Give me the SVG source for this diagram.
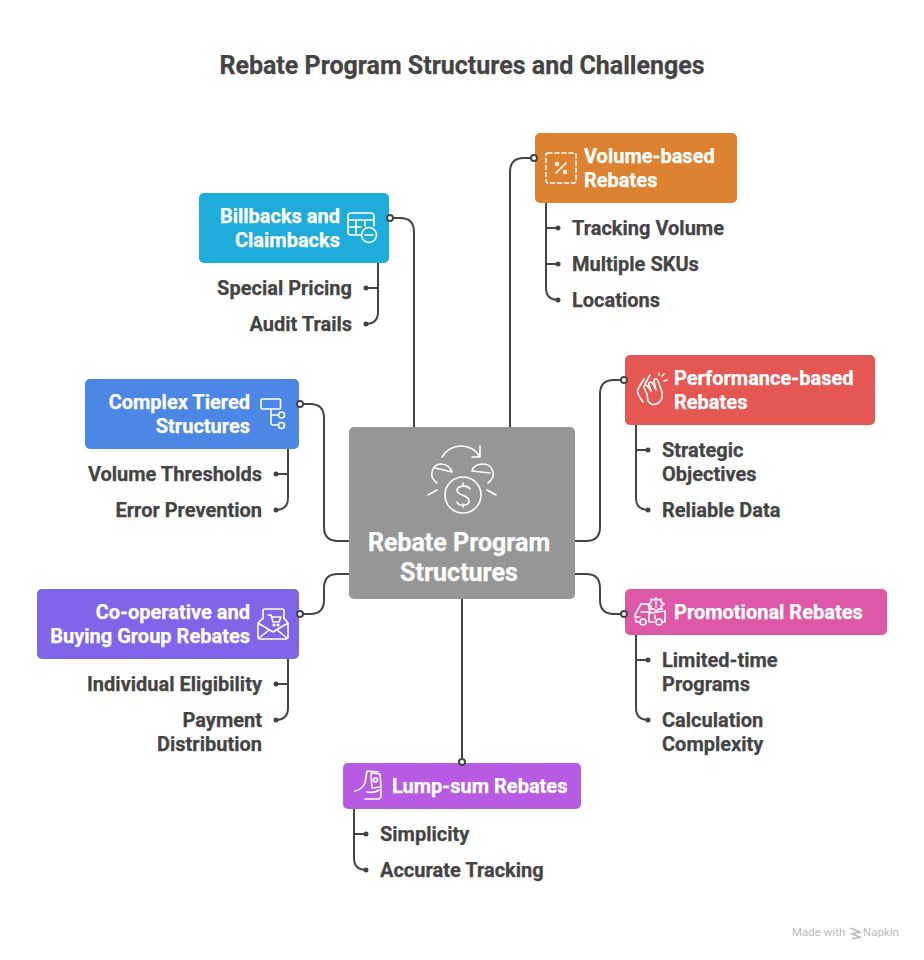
<svg xmlns="http://www.w3.org/2000/svg" width="924" height="960" viewBox="0 0 924 960">
<style>
text{font-family:Roboto,"Liberation Sans",sans-serif;font-weight:700}
.title{font-size:25px;fill:#444;text-anchor:middle;stroke:#444;stroke-width:.25}
.nt{font-size:20px;fill:#fff;stroke:#fff;stroke-width:.25}
.ct{font-size:25px;fill:#fff;text-anchor:middle;stroke:#fff;stroke-width:.25}
.lb{font-size:20px;fill:#444;stroke:#444;stroke-width:.25}
.e{text-anchor:end}
.ln{fill:none;stroke:#444;stroke-width:2}
.pt{fill:#444}
.op{fill:#fff;stroke:#444;stroke-width:2}
.ic{fill:none;stroke:#fff;stroke-width:1.6;stroke-linecap:round;stroke-linejoin:round}
.wm{font-size:11.5px;fill:#bbb;font-weight:400}
</style>
<rect width="924" height="960" fill="#fff"/>
<text class="title" x="462" y="74">Rebate Program Structures and Challenges</text>
<g id="center">
<rect x="349" y="427" width="226" height="172" rx="5" fill="#969696"/>
<g class="ic">
<path d="M442 457C447 449 454 446 461 446C469 446 476 450 480 457M480 446V457H472"/>
<path d="M437 483C433 480 431 476 432 472C433 467 436 464 441 464C447 464 451 468 452 472L435 468"/>
<path d="M488 483C492 480 494 476 493 472C492 467 488 464 483 464C477 464 473 467 472 471L490 473"/>
<circle cx="463" cy="495" r="18"/>
<path d="M470 489C468 485 458 485 457 490C456 496 469 494 469 501C469 506 459 507 457 502M463 483V486M463 504V507"/>
<path d="M428 495L437 490M496 495L487 490"/>
</g>
<text class="ct" x="459" y="551">Rebate Program</text>
<text class="ct" x="459" y="581">Structures</text>
</g>
<g id="billbacks">
<rect x="199" y="193" width="190" height="70" rx="5" fill="#1eacdb"/>
<text class="nt e" x="340" y="223">Billbacks and</text>
<text class="nt e" x="340" y="247">Claimbacks</text>
<g class="ic">
<path d="M361 235H351Q348 235 348 232V216Q348 213 351 213H371Q374 213 374 216V226M348 220H374M348 227H361M356 220V235M365 220V226"/>
<circle cx="369" cy="235" r="7.5"/><path d="M365 235H373"/>
</g>
<text class="lb e" x="352" y="295">Special Pricing</text>
<text class="lb e" x="352" y="331">Audit Trails</text>
</g>
<g id="volume">
<rect x="535" y="133" width="202" height="70" rx="5" fill="#dd8230"/>
<text class="nt" x="584" y="163">Volume-based</text>
<text class="nt" x="584" y="187">Rebates</text>
<g class="ic">
<rect x="546" y="153" width="30" height="30" rx="2" stroke-dasharray="4 3"/>
<path d="M566 163L556 173"/><circle cx="557" cy="164" r="1.4"/><circle cx="565" cy="172" r="1.4"/>
</g>
<text class="lb" x="572" y="235">Tracking Volume</text>
<text class="lb" x="572" y="271">Multiple SKUs</text>
<text class="lb" x="572" y="307">Locations</text>
</g>
<g id="performance">
<rect x="625" y="355" width="250" height="70" rx="5" fill="#e55753"/>
<text class="nt" x="674" y="385">Performance-based</text>
<text class="nt" x="674" y="409">Rebates</text>
<g class="ic">
<path d="M644 379L638 389C636 392 640 398 643 402M650 375L645 384"/>
<path d="M647 394L644 388C643 385 646 384 648 387L651 391L649 385C648 382 651 381 653 384L656 390L654 381C654 378 657 378 658 381L661 389C663 394 663 400 658 403C654 406 650 404 648 401Z"/>
<path d="M662 376L664 374M664 381L667 380M659 373L659 375"/>
</g>
<text class="lb" x="662" y="457">Strategic</text>
<text class="lb" x="662" y="481">Objectives</text>
<text class="lb" x="662" y="517">Reliable Data</text>
</g>
<g id="promotional">
<rect x="625" y="589" width="262" height="46" rx="5" fill="#de58a8"/>
<text class="nt" x="674" y="619">Promotional Rebates</text>
<g class="ic">
<path d="M640 622H636L635 615L641 604H648L650 612M641 612H650M649 613V622H654M650 613L665 611V622H662"/>
<path d="M636 617H640M655 615V619"/>
<circle cx="643" cy="622" r="3"/><circle cx="659" cy="622" r="3"/>
<path d="M656 598L658 600L661 599L661 602L664 604L661 606L662 609L659 609L656 611L654 609L651 609L651 606L649 604L651 602L651 599L654 600Z"/>
<path d="M656 601V605M656 607V607.500"/>
</g>
<text class="lb" x="662" y="667">Limited-time</text>
<text class="lb" x="662" y="691">Programs</text>
<text class="lb" x="662" y="727">Calculation</text>
<text class="lb" x="662" y="751">Complexity</text>
</g>
<g id="lump">
<rect x="343" y="763" width="238" height="46" rx="5" fill="#b75ce2"/>
<text class="nt" x="392" y="793">Lump-sum Rebates</text>
<g class="ic">
<path d="M355 791C360 790 363 787 365 783L367 771L378 772"/>
<path d="M371 773L380 774L381 787L372 788Z"/>
<circle cx="375.500" cy="780" r="2"/>
<path d="M365 799H379L381 797V789M367 792C372 793 376 792 379 790"/>
</g>
<text class="lb" x="380" y="841">Simplicity</text>
<text class="lb" x="380" y="877">Accurate Tracking</text>
</g>
<g id="coop">
<rect x="37" y="589" width="262" height="70" rx="5" fill="#7f65e8"/>
<text class="nt e" x="250" y="619">Co-operative and</text>
<text class="nt e" x="250" y="643">Buying Group Rebates</text>
<g class="ic">
<path d="M263 619V611Q263 609 265 609H282Q284 609 284 611V619"/>
<path d="M263 618L258 623V637Q258 639 260 639H286Q288 639 288 637V623L284 618M258 623L273 632L288 623M259 638L269 630M287 638L277 630"/>
<path d="M268 615H271L273 622H279L281 617H272"/><circle cx="274" cy="625" r="0.8"/><circle cx="278" cy="625" r="0.8"/>
</g>
<text class="lb e" x="262" y="691">Individual Eligibility</text>
<text class="lb e" x="262" y="727">Payment</text>
<text class="lb e" x="262" y="751">Distribution</text>
</g>
<g id="complex">
<rect x="85" y="379" width="214" height="70" rx="5" fill="#4d87e6"/>
<text class="nt e" x="250" y="409">Complex Tiered</text>
<text class="nt e" x="250" y="433">Structures</text>
<g class="ic">
<rect x="261" y="399" width="19.500" height="10" rx="1"/>
<path d="M271 409V423Q271 425 273 425H278M271 415H278"/>
<circle cx="281.500" cy="415" r="3"/><circle cx="281.500" cy="425.500" r="3"/>
</g>
<text class="lb e" x="262" y="481">Volume Thresholds</text>
<text class="lb e" x="262" y="517">Error Prevention</text>
</g>
<g id="connectors">
<path class="ln" d="M414 427V232Q414 218 400 218H393"/>
<path class="ln" d="M510 427V172Q510 158 524 158H531"/>
<path class="ln" d="M575 541H586Q600 541 600 527V394Q600 380 614 380H621"/>
<path class="ln" d="M575 574H586Q600 574 600 588V600Q600 614 614 614H621"/>
<path class="ln" d="M349 574H338Q324 574 324 588V600Q324 614 310 614H303"/>
<path class="ln" d="M349 541H338Q324 541 324 527V418Q324 404 310 404H303"/>
<path class="ln" d="M462 599V758"/>
<circle class="op" cx="390" cy="218" r="3"/>
<circle class="op" cx="534" cy="158" r="3"/>
<circle class="op" cx="624" cy="380" r="3"/>
<circle class="op" cx="624" cy="614" r="3"/>
<circle class="op" cx="300" cy="614" r="3"/>
<circle class="op" cx="300" cy="404" r="3"/>
<circle class="op" cx="462" cy="762" r="3"/>
<path class="ln" d="M378 263V312Q378 324 365 324M378 288H365"/>
<path class="ln" d="M546 203V288Q546 300 559 300M546 228H559M546 264H559"/>
<path class="ln" d="M636 425V498Q636 510 649 510M636 450H649"/>
<path class="ln" d="M636 635V708Q636 720 649 720M636 660H649"/>
<path class="ln" d="M354 809V858Q354 870 367 870M354 834H367"/>
<path class="ln" d="M288 659V708Q288 720 275 720M288 684H275"/>
<path class="ln" d="M288 449V498Q288 510 275 510M288 474H275"/>
<g class="pt">
<circle cx="366" cy="288" r="2.500"/><circle cx="366" cy="324" r="2.500"/>
<circle cx="558" cy="228" r="2.500"/><circle cx="558" cy="264" r="2.500"/><circle cx="558" cy="300" r="2.500"/>
<circle cx="648" cy="450" r="2.500"/><circle cx="648" cy="510" r="2.500"/>
<circle cx="648" cy="660" r="2.500"/><circle cx="648" cy="720" r="2.500"/>
<circle cx="366" cy="834" r="2.500"/><circle cx="366" cy="870" r="2.500"/>
<circle cx="276" cy="684" r="2.500"/><circle cx="276" cy="720" r="2.500"/>
<circle cx="276" cy="474" r="2.500"/><circle cx="276" cy="510" r="2.500"/>
</g>
</g>
<g id="watermark">
<text class="wm" x="792" y="936">Made with</text>
<path d="M850 928L860 932L852 934L860 937L852 939" fill="none" stroke="#bbb" stroke-width="1.500"/>
<text class="wm" x="863" y="936">Napkin</text>
</g>
</svg>
